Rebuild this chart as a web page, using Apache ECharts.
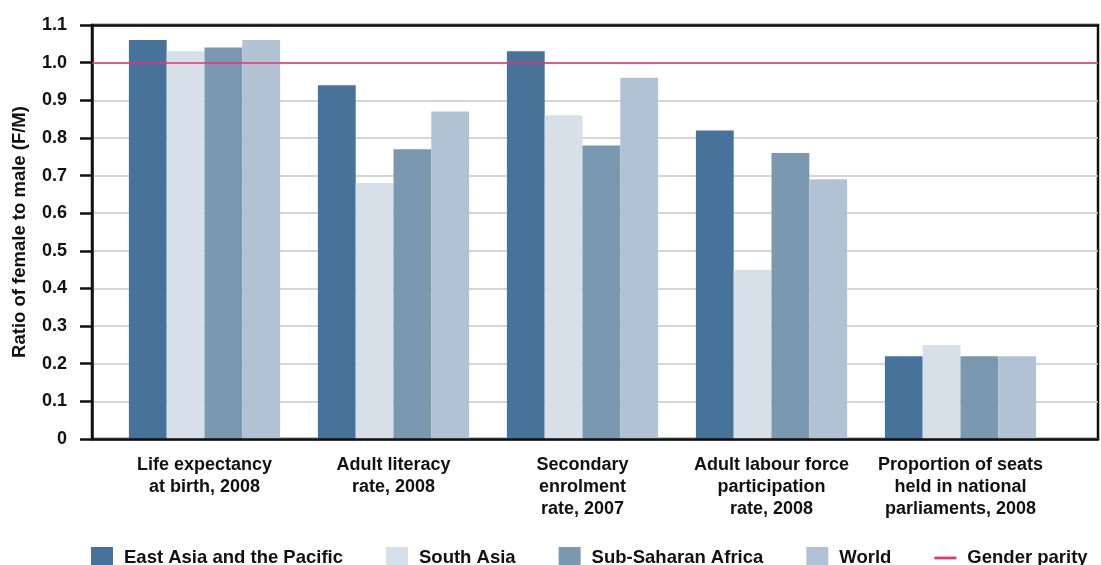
<!DOCTYPE html>
<html>
<head>
<meta charset="utf-8">
<script src="https://cdn.jsdelivr.net/npm/echarts@6/dist/echarts.min.js"></script>
<style>
html,body{margin:0;padding:0;background:#fff;}
#chart{width:1101px;height:565px;}
</style>
</head>
<body>
<div id="chart"></div>
<script>
const categories = [
  "Life expectancy\nat birth, 2008",
  "Adult literacy\nrate, 2008",
  "Secondary\nenrolment\nrate, 2007",
  "Adult labour force\nparticipation\nrate, 2008",
  "Proportion of seats\nheld in national\nparliaments, 2008"
];
const seriesNames = ["East Asia and the Pacific", "South Asia", "Sub-Saharan Africa", "World"];
const eastAsia = [1.06, 0.94, 1.03, 0.82, 0.22];
const southAsia = [1.03, 0.68, 0.86, 0.45, 0.25];
const subSaharan = [1.04, 0.77, 0.78, 0.76, 0.22];
const world = [1.06, 0.87, 0.96, 0.69, 0.22];
const parityValue = 1.0;
const parityName = "Gender parity";
const yTicks = [0, 0.1, 0.2, 0.3, 0.4, 0.5, 0.6, 0.7, 0.8, 0.9, 1.0, 1.1];

const colors = ["#47739a", "#d7dfe8", "#7a98b0", "#b0c2d3"];
const parityColor = "#e5356e";
const fontFamily = "'Liberation Sans', Arial, Helvetica, sans-serif";
const valuesList = [eastAsia, southAsia, subSaharan, world];

const chart = echarts.init(document.getElementById('chart'), null, {renderer: 'canvas'});

const series = seriesNames.map((n, i) => ({
  name: n,
  type: 'bar',
  xAxisIndex: 0,
  yAxisIndex: 0,
  data: valuesList[i],
  barGap: '0%',
  barCategoryGap: '20%',
  itemStyle: {color: colors[i]},
  z: 3
}));

series.push({
  name: parityName,
  type: 'line',
  xAxisIndex: 1,
  yAxisIndex: 1,
  data: [],
  itemStyle: {color: parityColor},
  lineStyle: {color: parityColor},
  markLine: {
    silent: true,
    symbol: ['none', 'none'],
    label: {show: false},
    lineStyle: {color: parityColor, width: 1.5, type: 'solid'},
    data: [{yAxis: parityValue}]
  },
  z: 4
});

const option = {
  animation: false,
  backgroundColor: '#ffffff',
  textStyle: {fontFamily: fontFamily},
  grid: [{
    left: 110, right: 46, top: 25, bottom: 126,
    outerBoundsMode: 'none', containLabel: false
  }, {
    left: 92, right: 3, top: 25, bottom: 126,
    outerBoundsMode: 'none', containLabel: false,
    show: true, borderColor: '#111', borderWidth: 2.5, backgroundColor: 'transparent', z: 0
  }],
  legend: {
    type: 'plain',
    left: 91,
    right: 0,
    top: 547,
    padding: 0,
    itemWidth: 22,
    itemHeight: 22,
    itemGap: 43,
    textStyle: {fontFamily: fontFamily, fontWeight: 'bold', fontSize: 18.5, color: '#111', padding: [2, 0, 0, 6]},
    data: [
      {name: seriesNames[0], icon: 'rect'},
      {name: seriesNames[1], icon: 'rect'},
      {name: seriesNames[2], icon: 'rect'},
      {name: seriesNames[3], icon: 'rect'},
      {name: parityName, icon: 'path://M0,0H24V3H0Z'}
    ]
  },
  xAxis: [{
    gridIndex: 0,
    type: 'category',
    data: categories,
    axisLine: {show: false},
    axisTick: {show: false},
    splitLine: {show: false},
    axisLabel: {
      interval: 0, margin: 15, color: '#111',
      fontFamily: fontFamily, fontWeight: 'bold', fontSize: 18, lineHeight: 22
    }
  }, {
    gridIndex: 1,
    type: 'value',
    min: 0, max: 1,
    axisLine: {show: true, onZero: false, lineStyle: {color: '#111', width: 2.5}},
    axisTick: {show: false},
    axisLabel: {show: false},
    splitLine: {show: false},
    z: 5
  }, {
    gridIndex: 1,
    type: 'value',
    position: 'top',
    min: 0, max: 1,
    axisLine: {show: true, onZero: false, lineStyle: {color: '#111', width: 2.5}},
    axisTick: {show: false},
    axisLabel: {show: false},
    splitLine: {show: false},
    z: 5
  }],
  yAxis: [{
    gridIndex: 0,
    type: 'value',
    min: 0, max: 1.1, interval: 0.1,
    show: false
  }, {
    gridIndex: 1,
    type: 'value',
    min: 0, max: 1.1, interval: 0.1,
    name: 'Ratio of female to male (F/M)',
    nameLocation: 'middle',
    nameGap: 63,
    nameTextStyle: {fontFamily: fontFamily, fontWeight: 'bold', fontSize: 18.5, color: '#111'},
    axisLine: {show: true, onZero: false, lineStyle: {color: '#111', width: 2.5}},
    axisTick: {show: true, length: 12, lineStyle: {color: '#111', width: 2.5}},
    axisLabel: {
      margin: 25, color: '#111', fontFamily: fontFamily, fontWeight: 'bold', fontSize: 18,
      formatter: function (v) {
        const t = yTicks.find(x => Math.abs(x - v) < 1e-6);
        if (t === undefined) return '';
        return t === 0 ? '0' : t.toFixed(1);
      }
    },
    splitLine: {show: true, lineStyle: {color: '#c8c8c8', width: 1.5}},
    z: 1
  }],
  series: series
};
chart.setOption(option);
</script>
</body>
</html>
